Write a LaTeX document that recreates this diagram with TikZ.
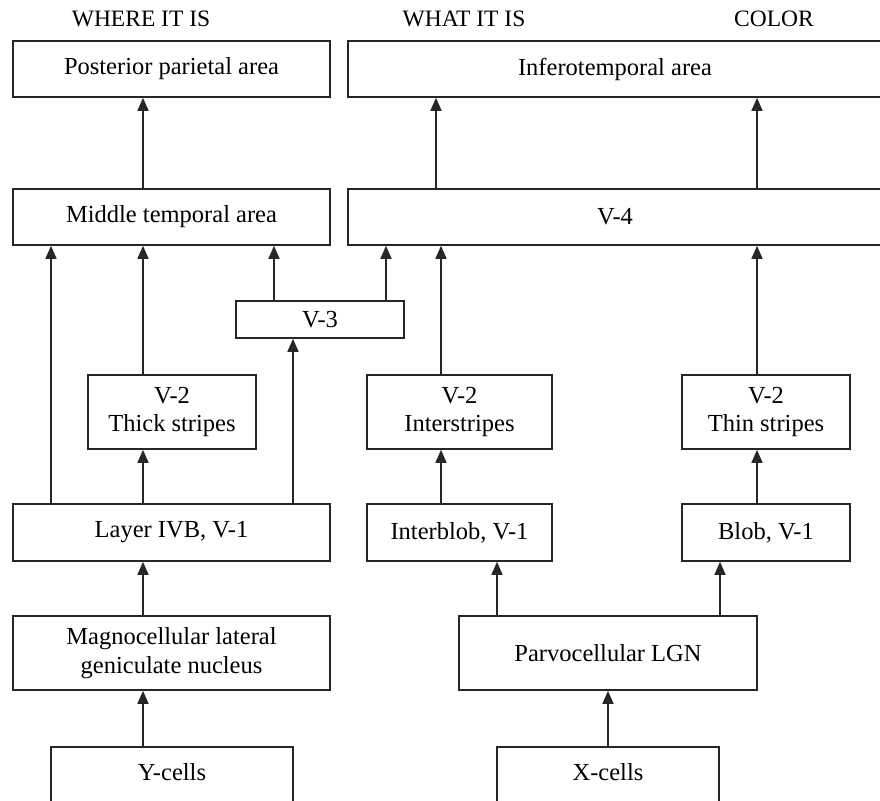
\documentclass[tikz,border=0pt]{standalone}
\usepackage{fontspec}
\setmainfont{Liberation Serif}
\usetikzlibrary{arrows.meta}
\begin{document}
\begin{tikzpicture}[x=1pt,y=-1pt,
  box/.style={draw=black!85, line width=1.6pt, inner sep=0pt, align=center, font=\fontsize{24.5}{28.5}\selectfont},
  arr/.style={draw=black!85, line width=1.6pt, -{Triangle[length=13pt,width=11pt]}},
  ttl/.style={font=\fontsize{23.5}{28}\selectfont, anchor=base, inner sep=0pt}]
\useasboundingbox (0,0) rectangle (880,800);
\clip (0,0) rectangle (880,800);
\fill[white] (0,0) rectangle (880,800);

% titles
\node[ttl] (t1) at (141,27) {WHERE IT IS};
\node[ttl] (t2) at (464,27) {WHAT IT IS};
\node[ttl] (t3) at (774,27) {COLOR};

% boxes
\node[box, minimum width=317, minimum height=56] (ppa) at (171.5,69) {Posterior parietal area};
\node[box, minimum width=534, minimum height=56] (it) at (615,69) {Inferotemporal area};
\node[box, minimum width=317, minimum height=56] (mt) at (171.5,217) {Middle temporal area};
\node[box, minimum width=534, minimum height=56] (v4) at (615,217) {V-4};
\node[box, minimum width=168, minimum height=37] (v3) at (320,319.5) {V-3};
\node[box, minimum width=168, minimum height=74] (thick) at (172,412) {V-2\\Thick stripes};
\node[box, minimum width=185, minimum height=74] (inter) at (459.5,412) {V-2\\Interstripes};
\node[box, minimum width=168, minimum height=74] (thin) at (766,412) {V-2\\Thin stripes};
\node[box, minimum width=317, minimum height=57] (ivb) at (171.5,532.5) {Layer IVB, V-1};
\node[box, minimum width=185, minimum height=57] (iblob) at (459.5,532.5) {Interblob, V-1};
\node[box, minimum width=168, minimum height=57] (blob) at (766,532.5) {Blob, V-1};
\node[box, minimum width=317, minimum height=74] (magno) at (171.5,653) {Magnocellular lateral\\geniculate nucleus};
\node[box, minimum width=298, minimum height=74] (parvo) at (608,653) {Parvocellular LGN};
\node[box, anchor=north, minimum width=242, text height=34pt, text depth=30pt] (ycells) at (172,746) {Y-cells};
\node[box, anchor=north, minimum width=222, text height=34pt, text depth=30pt] (xcells) at (608,746) {X-cells};

% column coordinates
\coordinate (xA) at (51,0);
\coordinate (xB) at (143,0);
\coordinate (xC) at (274,0);
\coordinate (xD) at (293,0);
\coordinate (xE) at (386,0);
\coordinate (xF) at (436,0);
\coordinate (xF2) at (441,0);
\coordinate (xG) at (497,0);
\coordinate (xH) at (608,0);
\coordinate (xI) at (720,0);
\coordinate (xJ) at (757,0);

% arrows
\draw[arr] (mt.north -| xB) -- (ppa.south -| xB);
\draw[arr] (v4.north -| xF) -- (it.south -| xF);
\draw[arr] (v4.north -| xJ) -- (it.south -| xJ);
\draw[arr] (ivb.north -| xA) -- (mt.south -| xA);
\draw[arr] (thick.north -| xB) -- (mt.south -| xB);
\draw[arr] (v3.north -| xC) -- (mt.south -| xC);
\draw[arr] (v3.north -| xE) -- (v4.south -| xE);
\draw[arr] (inter.north -| xF2) -- (v4.south -| xF2);
\draw[arr] (thin.north -| xJ) -- (v4.south -| xJ);
\draw[arr] (ivb.north -| xB) -- (thick.south -| xB);
\draw[arr] (ivb.north -| xD) -- (v3.south -| xD);
\draw[arr] (iblob.north -| xF2) -- (inter.south -| xF2);
\draw[arr] (blob.north -| xJ) -- (thin.south -| xJ);
\draw[arr] (magno.north -| xB) -- (ivb.south -| xB);
\draw[arr] (parvo.north -| xG) -- (iblob.south -| xG);
\draw[arr] (parvo.north -| xI) -- (blob.south -| xI);
\draw[arr] (ycells.north -| xB) -- (magno.south -| xB);
\draw[arr] (xcells.north -| xH) -- (parvo.south -| xH);
\end{tikzpicture}
\end{document}
